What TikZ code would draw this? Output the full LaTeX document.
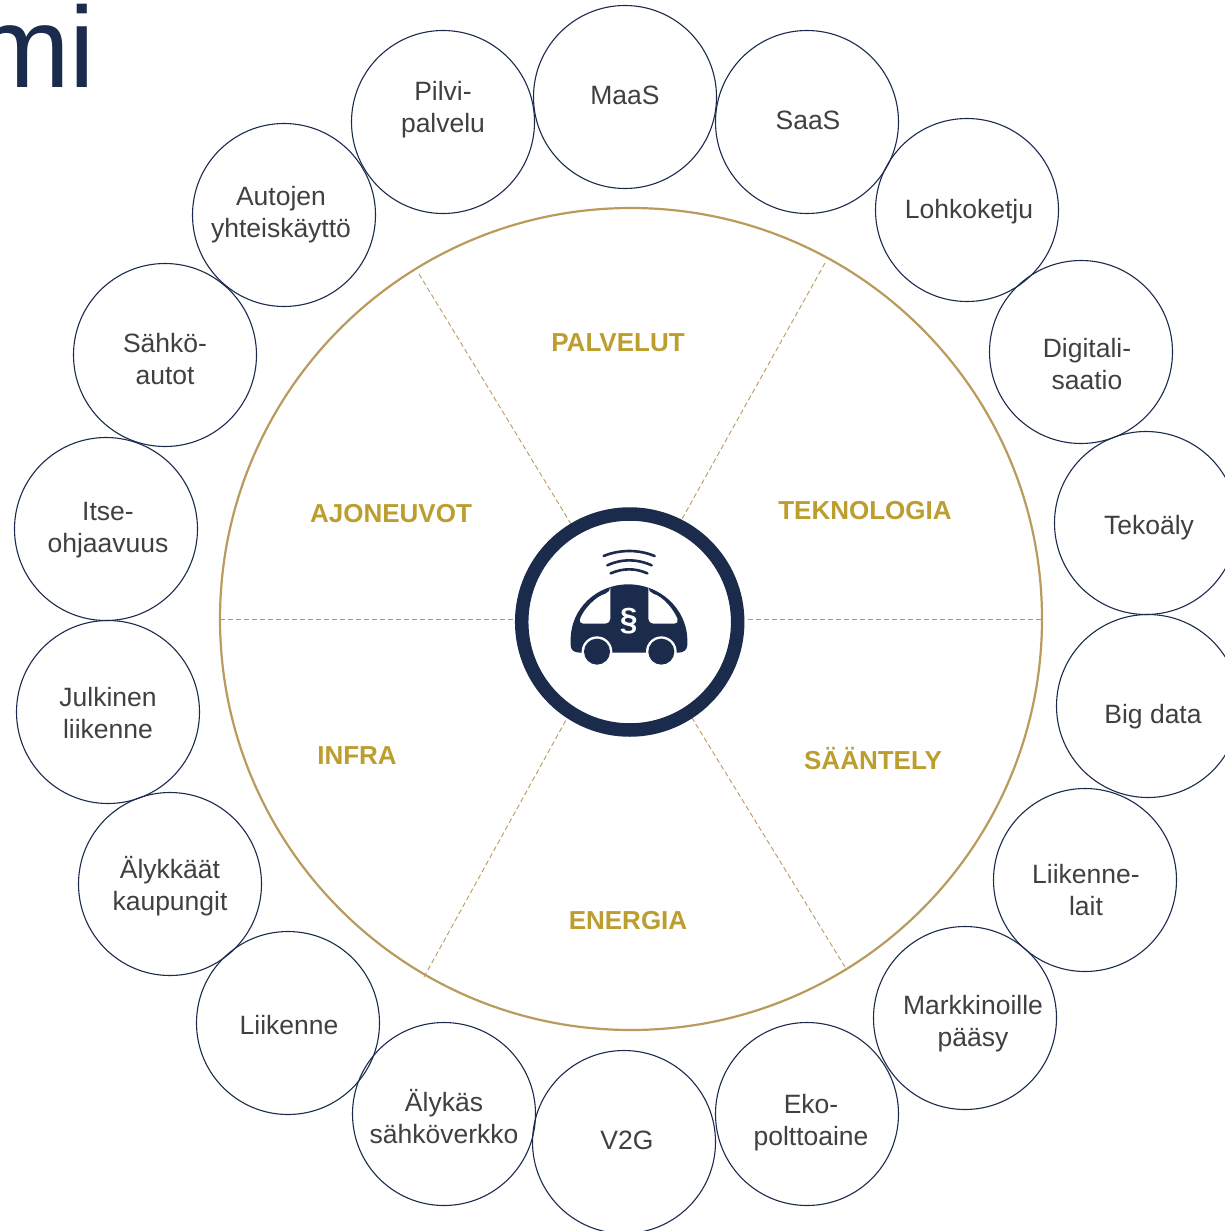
\documentclass[tikz,border=0pt]{standalone}
\usepackage{fontspec}
\setmainfont{Liberation Sans}
\definecolor{navy}{HTML}{1A2B4C}
\definecolor{ringgold}{HTML}{B99B5E}
\definecolor{labgold}{HTML}{BC9E2F}
\definecolor{txt}{HTML}{404040}
\tikzset{
  bubble/.style={circle,draw=navy,line width=1.1pt,minimum size=183pt,inner sep=0pt,outer sep=0pt},
  bubbletext/.style={text=txt,font=\fontsize{26.5}{32}\selectfont,align=center,inner sep=0pt,yshift=-3.5pt},
  sector/.style={text=labgold,font=\fontsize{26}{32}\selectfont\bfseries,inner sep=0pt,yshift=-3.5pt},
  divider/.style={draw=ringgold,line width=0.9pt,dash pattern=on 5pt off 3pt},
}
\begin{document}
\begin{tikzpicture}[x=1pt,y=-1pt]
\useasboundingbox (0,0) rectangle (1225,1231);
\fill[white] (0,0) rectangle (1225,1231);
\node[anchor=base west,text=navy,font=\fontsize{115}{115}\selectfont,inner sep=0pt] (title) at (-26,88) {mi};
% main ring
\node[circle,draw=ringgold,line width=2.2pt,minimum size=822pt,inner sep=0pt,outer sep=0pt] (rim) at (631,619) {};
\coordinate (d1a) at (419,274); \coordinate (d1b) at (571,524);
\coordinate (d2a) at (825,263); \coordinate (d2b) at (682,519);
\coordinate (d3a) at (220,619); \coordinate (d3b) at (513,619);
\coordinate (d4a) at (748,619); \coordinate (d4b) at (1042,619);
\coordinate (d5a) at (424,977); \coordinate (d5b) at (566,720);
\coordinate (d6a) at (845,967); \coordinate (d6b) at (692,718);
\draw[divider] (d1a) -- (d1b);
\draw[divider] (d2a) -- (d2b);
\draw[divider] (d3a) -- (d3b);
\draw[divider] (d4a) -- (d4b);
\draw[divider] (d5a) -- (d5b);
\draw[divider] (d6a) -- (d6b);
% bubbles
\node[bubble] (b1) at (443,122) {};
\node[bubble] (b2) at (625,97) {};
\node[bubble] (b3) at (807,122) {};
\node[bubble] (b4) at (967,210) {};
\node[bubble] (b5) at (1081,352) {};
\node[bubble] (b6) at (1146,523) {};
\node[bubble] (b7) at (1148,706) {};
\node[bubble] (b8) at (1085,880) {};
\node[bubble] (b9) at (965,1018) {};
\node[bubble] (b10) at (807,1114) {};
\node[bubble] (b11) at (624,1142) {};
\node[bubble] (b12) at (444,1114) {};
\node[bubble] (b13) at (288,1023) {};
\node[bubble] (b14) at (170,884) {};
\node[bubble] (b15) at (108,712) {};
\node[bubble] (b16) at (106,529) {};
\node[bubble] (b17) at (165,355) {};
\node[bubble] (b18) at (284,215) {};
% bubble texts
\node[bubbletext] (t1) at (443,107) {\strut Pilvi-\\\strut palvelu};
\node[bubbletext] (t2) at (625,95) {\strut MaaS};
\node[bubbletext] (t3) at (808,120) {\strut SaaS};
\node[bubbletext] (t4) at (969,209) {\strut Lohkoketju};
\node[bubbletext] (t5) at (1087,364) {\strut Digitali-\\\strut saatio};
\node[bubbletext] (t6) at (1149,525) {\strut Tekoäly};
\node[bubbletext] (t7) at (1153,714) {\strut Big data};
\node[bubbletext] (t8) at (1086,890) {\strut Liikenne-\\\strut lait};
\node[bubbletext] (t9) at (973,1021) {\strut Markkinoille\\\strut pääsy};
\node[bubbletext] (t10) at (811,1120) {\strut Eko-\\\strut polttoaine};
\node[bubbletext] (t11) at (627,1140) {\strut V2G};
\node[bubbletext] (t12) at (444,1118) {\strut Älykäs\\\strut sähköverkko};
\node[bubbletext] (t13) at (289,1025) {\strut Liikenne};
\node[bubbletext] (t14) at (170,885) {\strut Älykkäät\\\strut kaupungit};
\node[bubbletext] (t15) at (108,713) {\strut Julkinen\\\strut liikenne};
\node[bubbletext] (t16) at (108,527) {\strut Itse-\\\strut ohjaavuus};
\node[bubbletext] (t17) at (165,359) {\strut Sähkö-\\\strut autot};
\node[bubbletext] (t18) at (281,212) {\strut Autojen\\\strut yhteiskäyttö};
% sector labels
\node[sector] (s1) at (618,339) {PALVELUT};
\node[sector] (s2) at (865,507) {TEKNOLOGIA};
\node[sector] (s3) at (873,755) {SÄÄNTELY};
\node[sector] (s4) at (628,917) {ENERGIA};
\node[sector] (s5) at (357,752) {INFRA};
\node[sector] (s6) at (391,510) {AJONEUVOT};
% hub
\node[circle,draw=navy,line width=13.5pt,fill=white,minimum size=216pt,inner sep=0pt,outer sep=0pt] (hub) at (629.7,622) {};
% car icon, in units of the zoomed crop
\begin{scope}[shift={(500,490)},x=0.3333pt,y=-0.3333pt]
  \fill[navy] (212,445) .. controls (214,355) and (290,283) .. (385,283)
     .. controls (480,283) and (558,355) .. (562,445)
     -- (562,465) .. controls (562,480) and (550,488) .. (535,488)
     -- (240,488) .. controls (222,488) and (212,480) .. (212,465) -- cycle;
  \fill[white] (291,485) circle (46);
  \fill[white] (484,485) circle (46);
  \fill[navy] (291,485) circle (39);
  \fill[navy] (484,485) circle (39);
  \fill[white,rounded corners=5] (331,307) -- (331,401) -- (235,401)
     .. controls (250,360) and (285,320) .. cycle;
  \fill[white,rounded corners=5] (445,307) -- (445,401) -- (538,401)
     .. controls (522,360) and (490,320) .. cycle;
  \begin{scope}[navy,line width=2.6pt,line cap=round]
    \draw[navy] (311,198) .. controls (360,178) and (415,178) .. (464,198);
    \draw[navy] (322,226) .. controls (365,206) and (410,206) .. (455,226);
    \draw[navy] (332,250) .. controls (370,234) and (405,234) .. (442,250);
  \end{scope}
  \node[text=white,font=\fontsize{32}{32}\selectfont\bfseries,inner sep=0pt] (para) at (386,393) {§};
\end{scope}
\end{tikzpicture}
\end{document}
